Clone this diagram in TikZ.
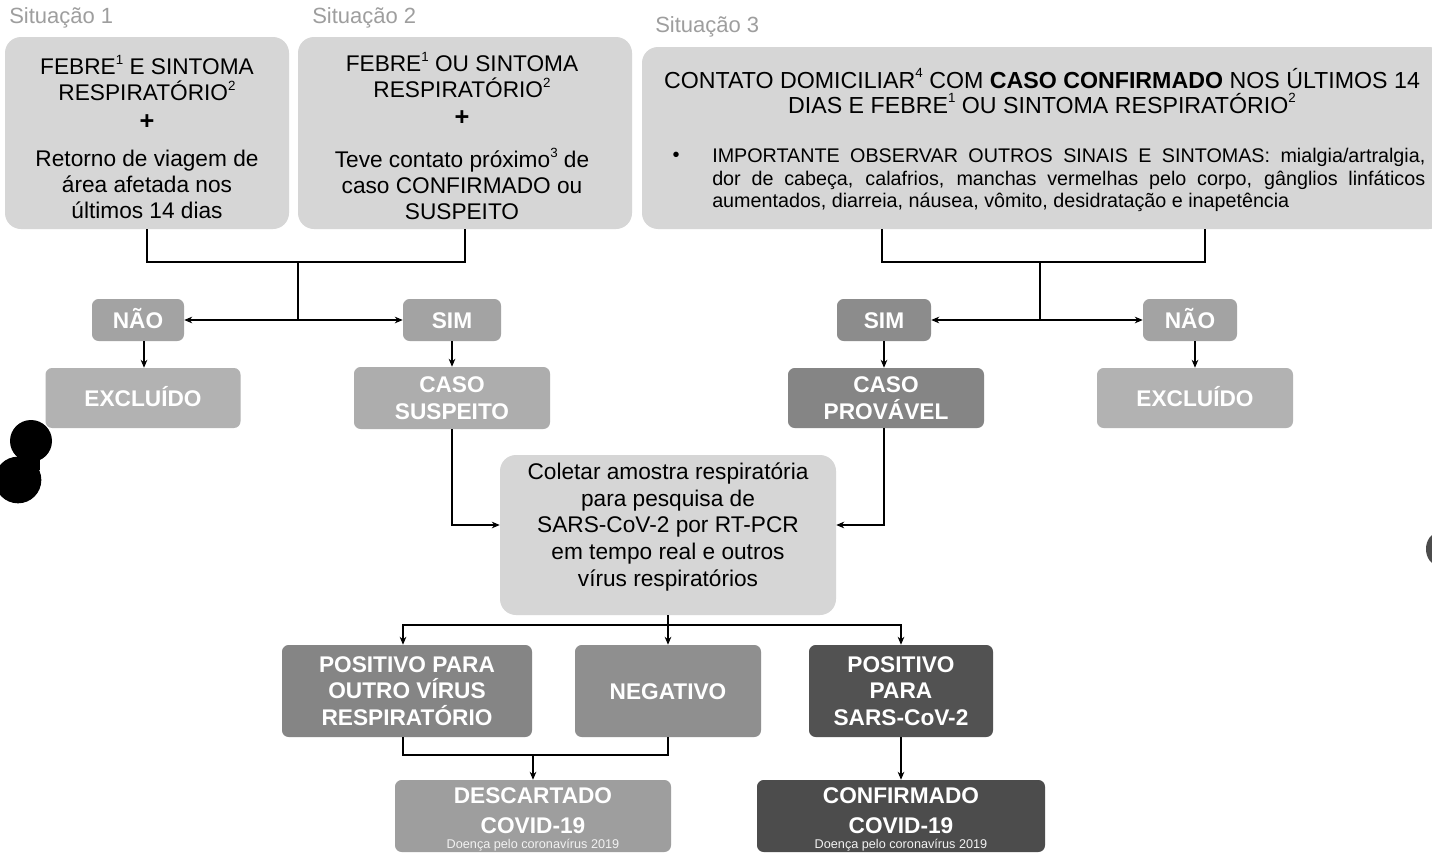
\documentclass[tikz,border=0pt]{standalone}
\usepackage{fontspec}
\setmainfont{Liberation Sans}
\usetikzlibrary{arrows.meta,calc}
\newcommand{\supr}[1]{\raisebox{0.48em}{\fontsize{10}{10}\selectfont #1}}
\definecolor{cLight}{gray}{0.84}
\definecolor{cNao}{gray}{0.64}
\definecolor{cExc}{gray}{0.70}
\definecolor{cSusp}{gray}{0.68}
\definecolor{cProv}{gray}{0.52}
\definecolor{cSim}{gray}{0.55}
\definecolor{cPos}{gray}{0.52}
\definecolor{cNeg}{gray}{0.56}
\definecolor{cSars}{gray}{0.32}
\definecolor{cDesc}{gray}{0.62}
\definecolor{cConf}{gray}{0.30}
\definecolor{cSit}{gray}{0.62}
\tikzset{
  bigbox/.style={fill=cLight, rounded corners=12pt, inner sep=0pt},
  lab/.style={rounded corners=5pt, inner sep=0pt, align=center, text=white,
    font=\fontsize{17}{20}\selectfont\bfseries},
  one/.style={text height=12.5pt, text depth=0pt},
  body/.style={align=center, inner sep=0pt, font=\fontsize{17}{19.5}\selectfont},
  sit/.style={anchor=west, inner sep=0pt, text=cSit, font=\fontsize{16.5}{18}\selectfont},
  conn/.style={draw, line width=0.8pt},
  arr/.style={conn, -{Stealth[length=6pt,width=5pt]}},
  small/.style={inner sep=0pt, text=white!90!gray, font=\fontsize{9.5}{10}\selectfont}
}
\begin{document}
\begin{tikzpicture}[x=0.75pt,y=-0.75pt]
\fill[white] (0,0) rectangle (1432,853);
\useasboundingbox (0,0) rectangle (1432,853);

% scan artefacts
\fill[black] (31,441) circle[radius=15.75pt];
\fill[black] (18,480) circle[radius=17.5pt];
\fill[black] (20,455) rectangle (40,470);
\fill[gray!60!black] (1438,549) ellipse[x radius=9pt, y radius=12pt];

% Situation labels
\node[sit] (sit1) at (9,18) {Situação 1};
\node[sit] (sit2) at (312,18) {Situação 2};
\node[sit] (sit3) at (655,27) {Situação 3};

% top boxes
\node[bigbox, minimum width=213pt, minimum height=144pt] (s1) at (147,133) {};
\node[body] (s1a) at (147,78) {FEBRE\supr{1} E SINTOMA\\RESPIRATÓRIO\supr{2}};
\node[body, font=\fontsize{19}{20}\selectfont\bfseries] (s1p) at (147,122) {+};
\node[body] (s1b) at (147,184) {Retorno de viagem de\\área afetada nos\\últimos 14 dias};

\node[bigbox, minimum width=250.5pt, minimum height=144pt] (s2) at (465,133) {};
\node[body] (s2a) at (462,75) {FEBRE\supr{1} OU SINTOMA\\RESPIRATÓRIO\supr{2}};
\node[body, font=\fontsize{19}{20}\selectfont\bfseries] (s2p) at (462,118) {+};
\node[body] (s2b) at (462,184) {Teve contato próximo\supr{3} de\\caso CONFIRMADO ou\\SUSPEITO};

\node[bigbox, minimum width=602.25pt, minimum height=136.5pt] (s3) at (1043.5,138) {};
\node[body, font=\fontsize{17.4}{18.75}\selectfont] (s3a) at (1042,91)
  {CONTATO DOMICILIAR\supr{4} COM \textbf{CASO CONFIRMADO} NOS ÚLTIMOS 14\\DIAS E FEBRE\supr{1} OU SINTOMA RESPIRATÓRIO\supr{2}};
\node[inner sep=0pt, font=\fontsize{15}{17}\selectfont] (s3bul) at (676,157) {\textbullet};
\node[anchor=north west, inner sep=0pt, text width=534.75pt, align=justify,
      font=\fontsize{14.8}{16.9}\selectfont] (s3b) at (712,148)
  {IMPORTANTE OBSERVAR OUTROS SINAIS E SINTOMAS: mialgia/artralgia,\linebreak
   dor de cabeça, calafrios, manchas vermelhas pelo corpo, gânglios linfáticos\linebreak
   aumentados, diarreia, náusea, vômito, desidratação e inapetência};

% decision row left
\node[lab, one, fill=cNao, minimum width=69pt, minimum height=31.5pt] (nao1) at (138,320) {NÃO};
\node[lab, one, fill=cNao, minimum width=73.5pt, minimum height=31.5pt] (sim1) at (452,320) {SIM};
\node[lab, one, fill=cExc, minimum width=146.25pt, minimum height=45pt] (exc1) at (143,398) {EXCLUÍDO};
\node[lab, fill=cSusp, minimum width=147pt, minimum height=46.5pt] (cs) at (452,398) {CASO\\SUSPEITO};

% decision row right
\node[lab, one, fill=cSim, minimum width=70.5pt, minimum height=31.5pt] (sim2) at (884,320) {SIM};
\node[lab, one, fill=cNao, minimum width=70.5pt, minimum height=31.5pt] (nao2) at (1190,320) {NÃO};
\node[lab, fill=cProv, minimum width=147pt, minimum height=45pt] (cp) at (886,398) {CASO\\PROVÁVEL};
\node[lab, one, fill=cExc, minimum width=147pt, minimum height=45pt] (exc2) at (1195,398) {EXCLUÍDO};

% central box
\node[bigbox, minimum width=252pt, minimum height=120pt] (col) at (668,535) {};
\node[body, font=\fontsize{17}{19.9}\selectfont] (colt) at (668,527)
  {Coletar amostra respiratória\\para pesquisa de\\SARS-CoV-2 por RT-PCR\\em tempo real e outros\\vírus respiratórios};

% results
\node[lab, fill=cPos, minimum width=187.5pt, minimum height=69pt] (p1) at (407,691) {POSITIVO PARA\\OUTRO VÍRUS\\RESPIRATÓRIO};
\node[lab, one, fill=cNeg, minimum width=139.5pt, minimum height=69pt] (neg) at (668,691) {NEGATIVO};
\node[lab, fill=cSars, minimum width=138pt, minimum height=69pt] (p2) at (901,691) {POSITIVO\\PARA\\SARS-CoV-2};

\node[lab, fill=cDesc, minimum width=207pt, minimum height=54pt] (desc) at (533,816) {};
\node[lab, font=\fontsize{17}{22.5}\selectfont\bfseries] (desca) at (533,811) {DESCARTADO\\COVID-19};
\node[small] (desct) at (533,845) {Doença pelo coronavírus 2019};
\node[lab, fill=cConf, minimum width=216pt, minimum height=54pt] (conf) at (901,816) {};
\node[lab, font=\fontsize{17}{22.5}\selectfont\bfseries] (confa) at (901,811) {CONFIRMADO\\COVID-19};
\node[small] (conft) at (901,845) {Doença pelo coronavírus 2019};

% connectors, left
\coordinate (j1) at (147,262);
\coordinate (j2) at (465,262);
\coordinate (jm) at (298,262);
\coordinate (jb) at (298,320);
\draw[conn] (s1.south) -- (j1) -- (j2) -- (s2.south);
\draw[conn] (jm) -- (jb);
\draw[arr] (jb) -- (nao1.east);
\draw[arr] (jb) -- (sim1.west);
\draw[arr] ($(nao1.south)+(6,0)$) -- ($(nao1.south |- exc1.north)+(6,0)$);
\draw[arr] (sim1.south) -- (sim1.south |- cs.north);

% connectors, right
\coordinate (r1) at (882,262);
\coordinate (r2) at (1205,262);
\coordinate (rm) at (1040,262);
\coordinate (rb) at (1040,320);
\draw[conn] (s3.south -| r1) -- (r1) -- (r2) -- (s3.south -| r2);
\draw[conn] (rm) -- (rb);
\draw[arr] (rb) -- (sim2.east);
\draw[arr] (rb) -- (nao2.west);
\draw[arr] (sim2.south) -- (sim2.south |- cp.north);
\draw[arr] ($(nao2.south)+(5,0)$) -- ($(nao2.south |- exc2.north)+(5,0)$);

% into central box
\coordinate (cin) at (0,525);
\draw[arr] (cs.south) |- (col.west |- cin);
\draw[arr] ($(cp.south)+(-2,0)$) |- (col.east |- cin);

% out of central box
\coordinate (b0) at (668,625);
\draw[conn] (col.south) -- (b0);
\draw[arr] (b0) -| ($(p1.north)+(-4,0)$);
\draw[arr] (b0) -- (neg.north);
\draw[arr] (b0) -| (p2.north);

% to final boxes
\coordinate (d0) at (533,755);
\draw[conn] ($(p1.south)+(-4,0)$) |- (d0);
\draw[conn] (neg.south) |- (d0);
\draw[arr] (d0) -- (desc.north);
\draw[arr] (p2.south) -- (conf.north);
\end{tikzpicture}
\end{document}
